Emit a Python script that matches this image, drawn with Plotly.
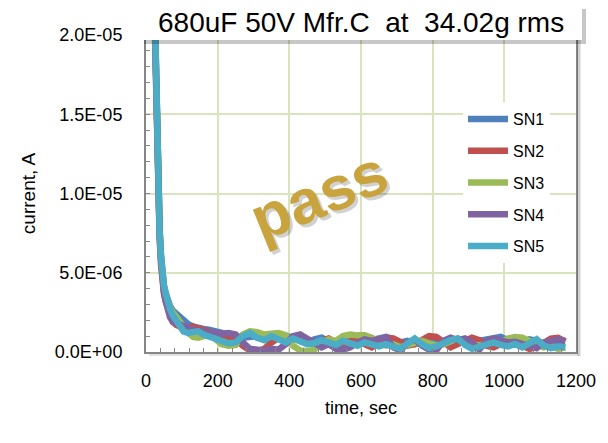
import plotly.graph_objects as go

# time axis, seconds
time_s = [22, 25, 28, 31, 34, 38, 42, 46, 50, 55, 60, 67, 75, 85, 95, 105, 118, 132, 146, 160, 175, 190,
          210, 230, 250, 270, 290, 310, 330, 350, 370, 390, 410, 430, 450, 470, 490, 510, 530, 550, 570,
          590, 610, 630, 650, 670, 690, 710, 730, 750, 770, 790, 810, 830, 850, 870, 890, 910, 930, 950,
          970, 990, 1010, 1030, 1050, 1070, 1090, 1110, 1130, 1150, 1170]

# leakage current per sample, microamps
sn1_ua = [24, 20.5, 17, 13.8, 10.5, 7.8, 6.0, 4.8, 4.2, 3.7, 3.3, 2.9, 2.6, 2.4, 2.2, 2.0, 1.75, 1.6, 1.5, 1.45, 1.4, 1.3,
          1.25, 1.1, 1.0, 0.9, 0.95, 1.0, 0.85, 0.7, 0.9, 1.0, 0.9, 0.75, 0.6, 0.8, 0.9, 0.7, 0.5, 0.65, 0.8,
          0.7, 0.55, 0.75, 0.9, 0.95, 0.8, 0.6, 0.7, 0.5, 0.6, 0.8, 0.7, 0.5, 0.65, 0.8, 0.6, 0.5, 0.7, 0.8,
          0.9, 0.95, 0.75, 0.55, 0.6, 0.8, 0.7, 0.5, 0.6, 0.5, 0.55]
sn2_ua = [23, 19.5, 16, 13, 9.8, 7.2, 5.5, 4.3, 3.7, 3.2, 2.8, 2.3, 1.9, 1.7, 1.55, 1.5, 1.55, 1.6, 1.5, 1.4, 1.3, 1.2,
          1.1, 0.9, 0.8, 0.4, 0.1, 0.05, 0.2, 0.6, 0.9, 0.95, 0.85, 0.9, 0.7, 0.5, 0.7, 0.85, 0.6, 0.4, 0.7,
          0.8, 0.5, 0.3, 0.6, 0.9, 0.85, 0.6, 0.4, 0.5, 0.8, 1.0, 0.95, 0.6, 0.3, 0.5, 0.7, 0.9, 0.75, 0.4,
          0.3, 0.5, 0.7, 0.6, 0.4, 0.2, 0.3, 0.6, 0.85, 0.9, 0.65]
sn3_ua = [24, 20, 16.8, 13.5, 10.2, 7.6, 5.9, 4.7, 4.1, 3.6, 3.2, 2.8, 2.5, 2.2, 1.9, 1.6, 1.2, 0.95, 0.9, 1.0, 1.1, 0.9,
          0.5, 0.4, 0.45, 1.1, 1.3, 1.25, 1.1, 1.15, 1.2, 1.05, 0.4, 0.1, 0.05, 0.15, 0.6, 0.8, 0.7, 1.0, 1.1,
          1.05, 1.05, 0.9, 0.6, 0.4, 0.5, 0.3, 0.45, 0.6, 0.7, 0.55, 0.4, 0.5, 0.7, 0.85, 0.6, 0.5, 0.4, 0.55,
          0.7, 0.6, 0.85, 0.95, 0.9, 0.7, 0.5, 0.3, 0.4, 0.2, 0.3]
sn4_ua = [23.5, 20, 16.5, 13.4, 10.1, 7.5, 5.8, 4.5, 3.8, 3.2, 2.7, 2.2, 1.9, 1.8, 1.7, 1.6, 1.5, 1.4, 1.35, 1.3, 1.25, 1.2,
          1.15, 1.2, 1.1, 0.6, 0.2, 0.15, 0.1, 0.2, 0.15, 0.5, 1.0, 1.1, 0.8, 0.6, 0.3, 0.5, 0.2, 0.15, 0.3,
          0.6, 0.8, 0.7, 0.85, 0.9, 0.3, 0.1, 0.6, 0.8, 0.4, 0.15, 0.1, 0.7, 0.9, 0.75, 0.85, 0.6, 0.15, 0.7,
          0.85, 0.7, 0.6, 0.65, 0.5, 0.3, 0.25, 0.6, 0.75, 0.8, 0.7]
sn5_ua = [24, 20.2, 16.6, 13.6, 10.0, 7.6, 6.0, 4.9, 4.2, 3.7, 3.2, 2.7, 2.3, 1.9, 1.5, 1.3, 1.2, 1.25, 1.3, 1.1, 1.0, 0.85,
          0.7, 0.55, 0.6, 1.0, 1.2, 0.9, 0.75, 1.0, 0.8, 0.6, 0.85, 0.7, 0.5, 0.55, 0.75, 0.6, 0.45, 0.7, 0.55,
          0.4, 0.6, 0.45, 0.35, 0.5, 0.3, 0.2, 0.55, 0.85, 0.5, 0.25, 0.35, 0.6, 0.75, 0.85, 0.45, 0.2, 0.35, 0.55,
          0.6, 0.45, 0.35, 0.5, 0.3, 0.55, 0.8, 0.4, 0.25, 0.35, 0.3]

series_names = ["SN1", "SN2", "SN3", "SN4", "SN5"]
series_ua = [sn1_ua, sn2_ua, sn3_ua, sn4_ua, sn5_ua]
colors = ["#4f81bd", "#c0504d", "#9bbb59", "#8064a2", "#4bacc6"]

y_tickvals = [0, 5e-6, 1e-5, 1.5e-5, 2e-5]
y_ticktext = ["0.0E+00", "5.0E-06", "1.0E-05", "1.5E-05", "2.0E-05"]
x_tickvals = [0, 200, 400, 600, 800, 1000, 1200]

font = "Liberation Sans, Arial, sans-serif"
grid = "#d7e4bd"
axis_grey = "#868686"

fig = go.Figure()
for i, (name, vals) in enumerate(zip(series_names, series_ua)):
    fig.add_trace(go.Scatter(
        x=time_s, y=[v * 1e-6 for v in vals], name=name, mode="lines",
        line=dict(color=colors[i], width=6.5), legendgroup=name,
    ))

# page body has an 8px margin, so the figure is laid out 8px smaller
pw, ph = 430.0, 317.0

fig.update_layout(
    width=600, height=435,
    margin=dict(l=138, r=32, t=27, b=91),
    paper_bgcolor="white", plot_bgcolor="white",
    font=dict(family=font, color="black"),
    showlegend=True,
    legend=dict(
        x=(463 - 146) / pw, y=(352 - 102) / ph, xanchor="left", yanchor="top",
        bgcolor="white", font=dict(size=16, family=font), tracegroupgap=8,
        itemwidth=40,
    ),
    xaxis=dict(
        range=[0, 1200], tickvals=x_tickvals, showgrid=True, gridcolor=grid, gridwidth=1.5,
        showline=True, linecolor=axis_grey, linewidth=2, mirror=True,
        ticks="inside", ticklen=4, tickcolor=axis_grey,
        minor=dict(dtick=40, ticks="inside", ticklen=4, tickcolor=axis_grey, showgrid=False),
        tickfont=dict(size=18), ticklabelstandoff=11,
        title=dict(text="time, sec", font=dict(size=18), standoff=12),
        zeroline=False,
    ),
    yaxis=dict(
        range=[0, 2e-5], tickvals=y_tickvals, ticktext=y_ticktext, showgrid=True, gridcolor=grid,
        gridwidth=1.5, showline=True, linecolor=axis_grey, linewidth=2, mirror=True,
        ticks="inside", ticklen=4, tickcolor=axis_grey,
        minor=dict(dtick=1e-6, ticks="inside", ticklen=4, tickcolor=axis_grey, showgrid=False),
        tickfont=dict(size=18), ticklabelstandoff=18,
        title=dict(text="current, A", font=dict(size=19), standoff=14),
        zeroline=False,
    ),
)

# title box with a soft shadow
bx0, bx1 = (140 - 146) / pw, (582 - 146) / pw
by0, by1 = (352 - 40) / ph, (352 - 5) / ph
sx, sy = 4 / pw, 4 / ph
fig.add_shape(type="rect", xref="paper", yref="paper", x0=bx0 + sx, x1=bx1 + sx, y0=by0 - sy, y1=by1 - sy,
              fillcolor="rgba(0,0,0,0.22)", line_width=0, layer="above")
fig.add_shape(type="rect", xref="paper", yref="paper", x0=bx0, x1=bx1, y0=by0, y1=by1,
              fillcolor="white", line_width=0, layer="above")
# shadow along right side and bottom of plot frame
fig.add_shape(type="line", xref="paper", yref="paper", x0=1 + 3 / pw, x1=1 + 3 / pw, y0=-4 / ph, y1=by0,
              line=dict(color="rgba(0,0,0,0.18)", width=3), layer="above")
fig.add_shape(type="line", xref="paper", yref="paper", x0=3 / pw, x1=1 + 3 / pw, y0=-3 / ph, y1=-3 / ph,
              line=dict(color="rgba(0,0,0,0.12)", width=2), layer="above")

fig.add_annotation(
    text="680uF 50V Mfr.C&nbsp; at&nbsp; 34.02g rms", xref="paper", yref="paper",
    x=(bx0 + bx1) / 2, y=(by0 + by1) / 2, xanchor="center", yanchor="middle",
    showarrow=False, font=dict(size=28, family=font, color="black"),
)

# "pass" stamp
for dx, dy, col in [(3, -3, "rgba(0,0,0,0.18)"), (0, 0, "#c9a33d")]:
    fig.add_annotation(
        text="<b>pass</b>", x=480, y=9.9e-6, xref="x", yref="y", showarrow=False,
        textangle=-22, xshift=dx, yshift=dy, font=dict(size=62, family=font, color=col),
    )

fig.write_html("out.html")
